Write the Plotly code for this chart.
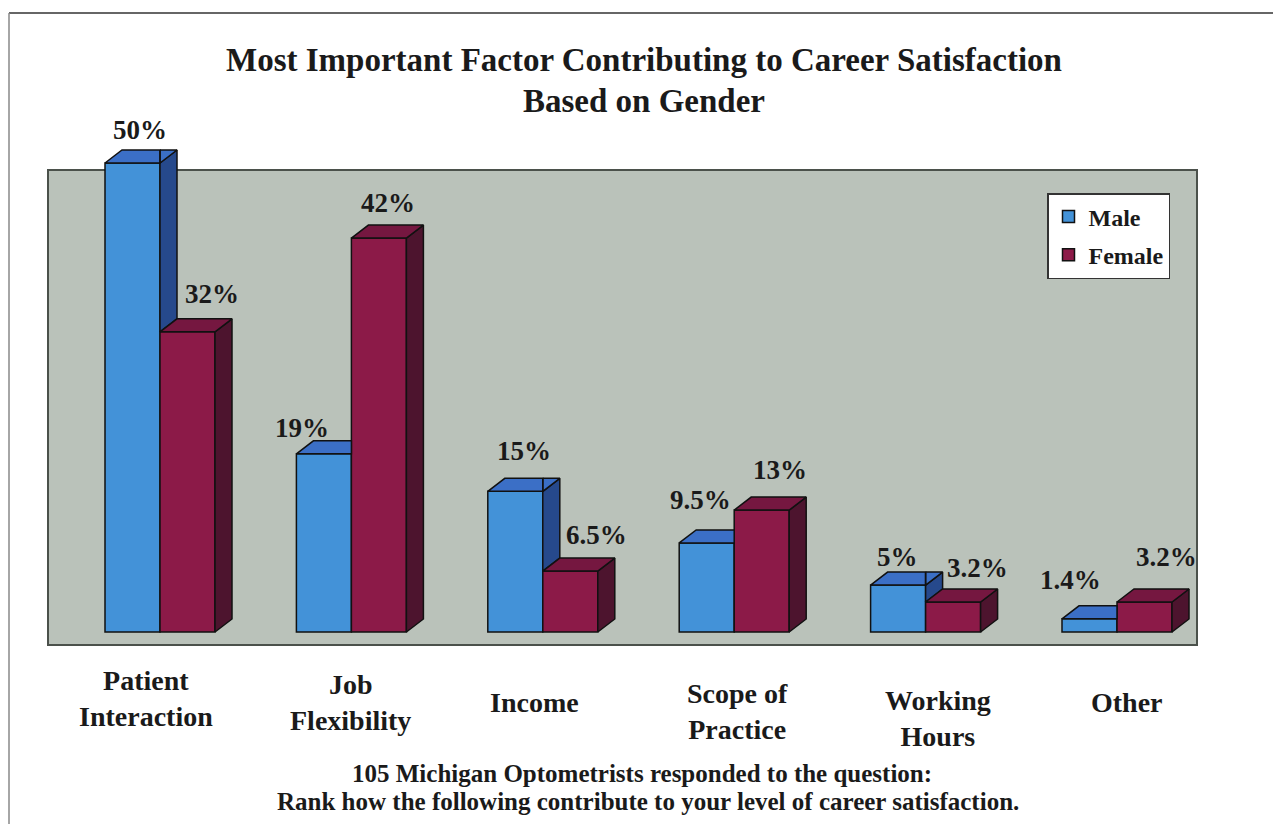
import plotly.graph_objects as go

# ---------------- data ----------------
categories = ["Patient<br>Interaction", "Job<br>Flexibility", "Income",
              "Scope of<br>Practice", "Working<br>Hours", "Other"]
male = [50, 19, 15, 9.5, 5, 1.4]
female = [32, 42, 6.5, 13, 3.2, 3.2]
male_labels = ["50%", "19%", "15%", "9.5%", "5%", "1.4%"]
female_labels = ["32%", "42%", "6.5%", "13%", "3.2%", "3.2%"]

title_lines = ["Most Important Factor Contributing to Career Satisfaction",
               "Based on Gender"]
footer_lines = ["105 Michigan Optometrists responded to the question:",
                "Rank how the following contribute to your level of career satisfaction."]

# ---------------- layout / style ----------------
OFF = 8                     # page body margin of the browser
W, H = 1281 - 2 * OFF, 832 - 2 * OFF
PLOT_L, PLOT_R, PLOT_T, PLOT_B = 48, 1197, 140, 645   # screen pixels
ML = PLOT_L - OFF
MT = PLOT_T - OFF
MR = W - (PLOT_R - OFF)
MB = H - (PLOT_B - OFF)
plot_w = PLOT_R - PLOT_L
plot_h = PLOT_B - PLOT_T

PX_PER_X = 191.4          # pixels per category unit
PX_PER_Y = 9.38           # pixels per percent
X_ZERO_PX = 160           # screen pixel of category 0 centre
Y_ZERO_PX = 632           # screen pixel of value 0
xrange_ = [(PLOT_L - X_ZERO_PX) / PX_PER_X, (PLOT_R - X_ZERO_PX) / PX_PER_X]
yrange_ = [-(PLOT_B - Y_ZERO_PX) / PX_PER_Y, (Y_ZERO_PX - PLOT_T) / PX_PER_Y]

BAR_W = 55 / PX_PER_X
DX = 17 / PX_PER_X
DY = 13 / PX_PER_Y
SLOPE = DY / DX

M_FRONT, M_TOP, M_SIDE = "#4392d8", "#3b6fc6", "#26498c"
F_FRONT, F_TOP, F_SIDE = "#8c1a48", "#751740", "#4d142e"
EDGE = "#111111"
FONT = "Liberation Serif, Times New Roman, serif"
BG_GRAY = "#bac2ba"


def py2paper(py):
    return (PLOT_B - py) / plot_h


def px2paper(px):
    return (px - PLOT_L) / plot_w


def clip(poly, a, b, c):
    """Keep part of polygon where a*x + b*y + c >= 0."""
    out = []
    n = len(poly)
    for k in range(n):
        p, q = poly[k], poly[(k + 1) % n]
        fp = a * p[0] + b * p[1] + c
        fq = a * q[0] + b * q[1] + c
        if fp >= 0:
            out.append(p)
        if (fp >= 0) != (fq >= 0):
            t = fp / (fp - fq)
            out.append((p[0] + t * (q[0] - p[0]), p[1] + t * (q[1] - p[1])))
    return out


def add_poly(xs, ys, poly):
    if len(poly) < 3:
        return
    for (x, y) in poly:
        xs.append(x)
        ys.append(y)
    xs.append(poly[0][0])
    ys.append(poly[0][1])
    xs.append(None)
    ys.append(None)


xs_idx = list(range(len(categories)))

fig = go.Figure()

# front faces
fig.add_trace(go.Bar(x=xs_idx, y=male, width=BAR_W, offset=-BAR_W, name="Male",
                     marker=dict(color=M_FRONT, line=dict(color=EDGE, width=1.5)),
                     legendgroup="m"))
fig.add_trace(go.Bar(x=xs_idx, y=female, width=BAR_W, offset=0, name="Female",
                     marker=dict(color=F_FRONT, line=dict(color=EDGE, width=1.5)),
                     legendgroup="f"))

# 3D faces
msx, msy, mtx, mty = [], [], [], []
fsx, fsy, ftx, fty = [], [], [], []
for i, (m, f) in enumerate(zip(male, female)):
    c = xs_idx[i]
    # male (partly hidden behind the female bar)
    x0, x1 = c - BAR_W, c
    side = [(x1, 0), (x1, m), (x1 + DX, m + DY), (x1 + DX, DY)]
    add_poly(msx, msy, clip(side, -SLOPE, 1, SLOPE * x1 - f))
    top = [(x0, m), (x0 + DX, m + DY), (x1 + DX, m + DY), (x1, m)]
    add_poly(mtx, mty, clip(top, -1, 0, x1))
    right = clip(top, 1, 0, -x1)
    add_poly(mtx, mty, clip(right, -SLOPE, 1, SLOPE * x1 - f) if right else [])
    # female
    x0, x1 = c, c + BAR_W
    add_poly(fsx, fsy, [(x1, 0), (x1, f), (x1 + DX, f + DY), (x1 + DX, DY)])
    add_poly(ftx, fty, [(x0, f), (x0 + DX, f + DY), (x1 + DX, f + DY), (x1, f)])

for xx, yy, col in [(msx, msy, M_SIDE), (mtx, mty, M_TOP),
                    (fsx, fsy, F_SIDE), (ftx, fty, F_TOP)]:
    fig.add_trace(go.Scatter(x=xx, y=yy, mode="lines", fill="toself", fillcolor=col,
                             line=dict(color=EDGE, width=1.5), showlegend=False,
                             hoverinfo="skip"))

annotations = []

# value labels
male_dx = [-1, -30, 0, -15, -9, -28]
male_dy = [20, 13, 27, 30, 15, 26]
female_dx = [16, 1, 18, 10, 16, 13]
female_dy = [25, 22, 23, 27, 21, 32]
VAL_FONT = dict(family=FONT, size=27, color="#1a1a1a", weight="bold")
for i in xs_idx:
    annotations.append(dict(x=i - BAR_W / 2 + DX / 2, y=male[i] + DY, xref="x", yref="y",
                            text=male_labels[i], showarrow=False, yanchor="middle",
                            xshift=male_dx[i], yshift=male_dy[i], font=VAL_FONT))
    annotations.append(dict(x=i + BAR_W / 2 + DX / 2, y=female[i] + DY, xref="x", yref="y",
                            text=female_labels[i], showarrow=False, yanchor="middle",
                            xshift=female_dx[i], yshift=female_dy[i], font=VAL_FONT))

# category labels
cat_dx = [-14, -1, -8, 3, 12, 10]
cat_dy = [3.5, -0.5, 0, -9.5, -16.5, 0]
for i, cat in enumerate(categories):
    annotations.append(dict(x=i, y=py2paper(702), xref="x", yref="paper",
                            text=cat, showarrow=False, yanchor="middle",
                            xshift=cat_dx[i], yshift=cat_dy[i],
                            font=dict(family=FONT, size=28, color="#1a1a1a", weight="bold")))

# title
for txt, py in zip(title_lines, [60, 101]):
    annotations.append(dict(x=px2paper(644), y=py2paper(py), xref="paper", yref="paper",
                            text=txt, showarrow=False, yanchor="middle",
                            font=dict(family=FONT, size=33, color="#1a1a1a", weight="bold")))

# footer
for txt, px, py in zip(footer_lines, [642, 648], [773, 801]):
    annotations.append(dict(x=px2paper(px), y=py2paper(py), xref="paper", yref="paper",
                            text=txt, showarrow=False, yanchor="middle",
                            font=dict(family=FONT, size=25, color="#1a1a1a", weight="bold")))

shapes = [
    dict(type="rect", xref="paper", yref="paper", x0=0, x1=1, y0=0, y1=py2paper(170),
         fillcolor=BG_GRAY, line=dict(color="#4b514b", width=2), layer="below"),
    dict(type="line", xref="paper", yref="paper", x0=px2paper(9), x1=px2paper(1290),
         y0=py2paper(13), y1=py2paper(13), line=dict(color="#666666", width=2)),
    dict(type="line", xref="paper", yref="paper", x0=px2paper(9), x1=px2paper(9),
         y0=py2paper(13), y1=py2paper(840), line=dict(color="#888888", width=1.5)),
]

fig.update_layout(
    width=W, height=H,
    margin=dict(l=ML, r=MR, t=MT, b=MB, pad=0),
    paper_bgcolor="white", plot_bgcolor="rgba(0,0,0,0)",
    barmode="overlay",
    xaxis=dict(range=xrange_, visible=False, fixedrange=True),
    yaxis=dict(range=yrange_, visible=False, fixedrange=True),
    showlegend=True,
    legend=dict(x=px2paper(1047), y=py2paper(193), xanchor="left", yanchor="top",
                bgcolor="white", bordercolor="#333333", borderwidth=1.5,
                traceorder="grouped", tracegroupgap=4,
                font=dict(family=FONT, size=24, color="#1a1a1a", weight="bold")),
    annotations=annotations,
    shapes=shapes,
)

fig.write_html("out.html")
